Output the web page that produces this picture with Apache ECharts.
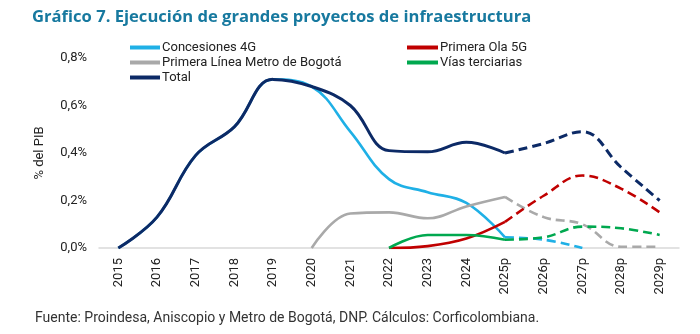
<!DOCTYPE html>
<html>
<head>
<meta charset="utf-8">
<script src="https://cdn.jsdelivr.net/npm/echarts@6/dist/echarts.min.js"></script>
<style>html,body{margin:0;padding:0;background:#fff;}#c{width:700px;height:334px;}</style>
</head>
<body>
<div id="c"></div>
<script>
var categories = ['2015','2016','2017','2018','2019','2020','2021','2022','2023','2024','2025p','2026p','2027p','2028p','2029p'];
var concesiones4G = [0, 0.13, 0.39, 0.51, 0.71, 0.68, 0.49, 0.29, 0.235, 0.19, 0.045, 0.035, 0.0, null, null];
var metroBogota   = [null, null, null, null, null, 0, 0.145, 0.15, 0.125, 0.175, 0.215, 0.13, 0.10, 0.005, 0.005];
var primeraOla5G  = [null, null, null, null, null, null, null, 0, 0.008, 0.04, 0.11, 0.22, 0.305, 0.25, 0.15];
var viasTerciarias= [null, null, null, null, null, null, null, 0, 0.055, 0.055, 0.035, 0.045, 0.09, 0.083, 0.055];
var total         = [0, 0.13, 0.39, 0.51, 0.71, 0.68, 0.60, 0.41, 0.405, 0.445, 0.40, 0.44, 0.49, 0.34, 0.20];
var yTicks = [0, 0.2, 0.4, 0.6, 0.8];
var splitIndex = 10; // first projected year (2025p) - solid up to here, dashed after

function solidPart(arr){ return arr.map(function(v,i){ return i <= splitIndex ? v : null; }); }
function dashPart(arr){ return arr.map(function(v,i){ return i >= splitIndex ? v : null; }); }

var defs = [
  {name:'Concesiones 4G', data:concesiones4G, color:'#1fb0e6', width:2.6},
  {name:'Primera Línea Metro de Bogotá', data:metroBogota, color:'#a9a9a9', width:2.6},
  {name:'Primera Ola 5G', data:primeraOla5G, color:'#c00000', width:2.6},
  {name:'Vías terciarias', data:viasTerciarias, color:'#00a84f', width:2.6},
  {name:'Total', data:total, color:'#0c2a66', width:3}
];
var series = [];
defs.forEach(function(d, k){
  series.push({name:d.name, type:'line', smooth:0.4, symbol:'none', data:solidPart(d.data), z:2+k,
    lineStyle:{color:d.color, width:d.width}, itemStyle:{color:d.color}});
  series.push({name:d.name+' (p)', type:'line', smooth:0.4, symbol:'none', data:dashPart(d.data), z:2+k,
    lineStyle:{color:d.color, width:d.width, type:[9,5]}, itemStyle:{color:d.color}});
});

var chart = echarts.init(document.getElementById('c'));
var legendText = {fontFamily:'Roboto', fontSize:13, color:'#222', lineHeight:15, padding:[0,0,0,-3]};
chart.setOption({
  backgroundColor:'#fff',
  animation:false,
  title:[
    {text:'Gráfico 7. Ejecución de grandes proyectos de infraestructura', left:27, top:4,
     textStyle:{fontFamily:'Open Sans', fontWeight:'bold', fontSize:16.6, color:'#17799f'}},
    {text:'Fuente: Proindesa, Aniscopio y Metro de Bogotá, DNP. Cálculos: Corficolombiana.', left:30, top:306,
     textStyle:{fontFamily:'Roboto', fontWeight:'normal', fontSize:14, color:'#333'}}
  ],
  legend:[
    {data:['Concesiones 4G','Primera Línea Metro de Bogotá','Total'], orient:'vertical', left:125, top:35,
     itemWidth:30, itemHeight:4, itemGap:0, icon:'rect', textStyle:legendText},
    {data:['Primera Ola 5G','Vías terciarias'], orient:'vertical', left:402, top:35,
     itemWidth:31, itemHeight:4, itemGap:0, icon:'rect', textStyle:legendText}
  ],
  grid:{left:99, right:21, top:58, bottom:86, containLabel:false},
  xAxis:{type:'category', data:categories, boundaryGap:true,
    axisLine:{lineStyle:{color:'#d9d9d9', width:1.5}}, axisTick:{show:false},
    axisLabel:{rotate:90, margin:10, fontFamily:'Roboto', fontSize:13, color:'#222'}},
  yAxis:{type:'value', min:0, max:0.8, interval:0.2,
    name:'% del PIB', nameLocation:'middle', nameGap:53, nameRotate:90,
    nameTextStyle:{fontFamily:'Roboto', fontSize:13, color:'#222'},
    axisLine:{show:false}, axisTick:{show:false}, splitLine:{show:false},
    axisLabel:{margin:12, fontFamily:'Roboto', fontSize:13, color:'#222',
      formatter:function(v){ return v.toFixed(1).replace('.', ',') + '%'; }}},
  series:series
});
</script>
</body>
</html>
